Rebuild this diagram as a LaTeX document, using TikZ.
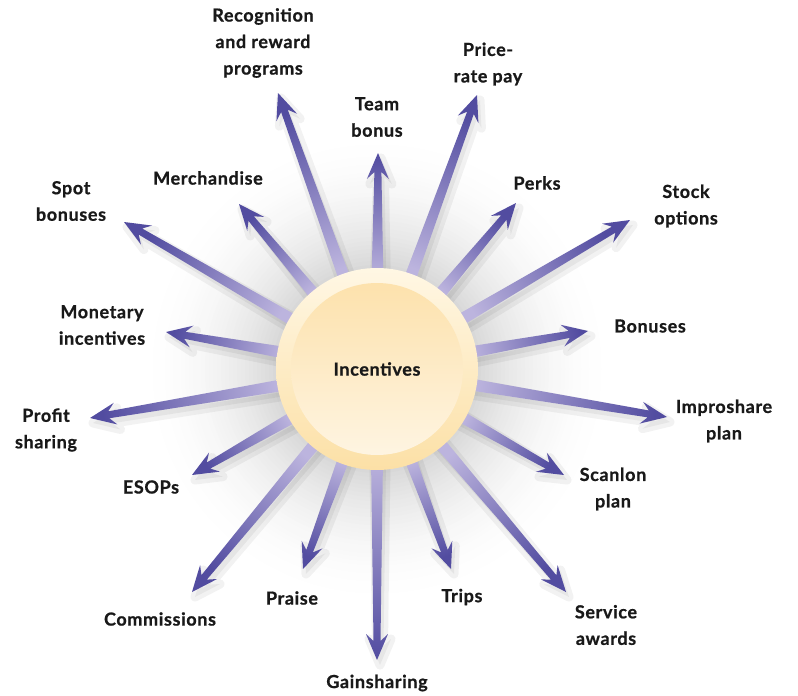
\documentclass[tikz,border=0pt]{standalone}
\usepackage{fontspec}
\setmainfont{Lato}[LetterSpace=3.5, BoldFeatures={FakeBold=0.8}]
\usetikzlibrary{calc,backgrounds}
\definecolor{spokedark}{RGB}{82,76,160}
\definecolor{spokelight}{RGB}{188,180,222}
\definecolor{ringtop}{RGB}{255,247,228}
\definecolor{ringbottom}{RGB}{252,224,166}
\definecolor{coretop}{RGB}{253,224,168}
\definecolor{corebottom}{RGB}{254,246,230}

\begin{document}
\begin{tikzpicture}[x=1pt, y=-1pt,
  lbl/.style={font=\fontsize{18}{26.5}\selectfont\bfseries, text=black!90, align=center, inner sep=0pt},
  hub/.style={circle, minimum size=202pt, inner sep=0pt, top color=ringtop, bottom color=ringbottom,
    path picture={\shade[top color=coretop, bottom color=corebottom] (path picture bounding box.center) circle (86pt);}},
  spoke/.style={top color=spokedark, bottom color=spokelight},
  spokeshadow/.style={fill=black, draw=black, line width=9pt, line join=round, opacity=0.05,
    transform canvas={shift={(3pt,-5pt)}}}]
  \useasboundingbox (0,0) rectangle (798,696);
  \def\spokes{rec/278/93/263/43/{Recognition\\and reward\\programs},
    team/378/153/377/117/{Team\\bonus},
    price/477/95/488/64/{Price-\\rate pay},
    perks/516/203/537/183/{Perks},
    stock/630/220/686/206/{Stock\\options},
    bon/588/331/650/326/{Bonuses},
    impro/667/417/724/421/{Improshare\\plan},
    scan/564/475/613/489/{Scanlon\\plan},
    serv/566/592/606/625/{Service\\awards},
    trips/451/569/462/597/{Trips},
    gain/377/660/377/683/{Gainsharing},
    praise/303/569/292/598/{Praise},
    comm/192/592/160/619/{Commissions},
    esop/192/475/151/487/{ESOPs},
    profit/90/418/46/430/{Profit\\sharing},
    mon/166/332/102/325/{Monetary\\incentives},
    spot/124/222/71/201/{Spot\\bonuses},
    merch/239/204/208/178/{Merchandise}}

  \node[hub, lbl] (inc) at (377,369) {Incentives};

  \foreach \n/\tx/\ty/\lx/\ly/\txt in \spokes {
    \coordinate (t-\n) at (\tx,\ty);
    \node[lbl] (l-\n) at (\lx,\ly) {\txt};
    \coordinate (s-\n) at ($(inc.center)!88pt!(t-\n)$);
    \coordinate (k-\n) at ($(t-\n)!19pt!(inc.center)$);
    \coordinate (w-\n) at ($(t-\n)!26pt!(inc.center)$);
    \coordinate (a-\n) at ($(s-\n)!6pt!90:(t-\n)$);
    \coordinate (b-\n) at ($(k-\n)!3.5pt!90:(t-\n)$);
    \coordinate (c-\n) at ($(w-\n)!11pt!90:(t-\n)$);
    \coordinate (d-\n) at ($(w-\n)!11pt!-90:(t-\n)$);
    \coordinate (e-\n) at ($(k-\n)!3.5pt!-90:(t-\n)$);
    \coordinate (f-\n) at ($(s-\n)!6pt!-90:(t-\n)$);
  }

  \begin{scope}[on background layer]
    \foreach \r in {240,236,...,100} {
      \pgfmathsetmacro\g{16*((240-\r)/140)^2}
      \fill[black!\g] (inc.center) circle (\r pt);
    }
    \foreach \n/\tx/\ty/\lx/\ly/\txt in \spokes
      \filldraw[spokeshadow] (a-\n) -- (b-\n) -- (c-\n) -- (t-\n) -- (d-\n) -- (e-\n) -- (f-\n) -- cycle;
    \foreach \n/\tx/\ty/\lx/\ly/\txt in \spokes {
      \pgfmathsetmacro\ang{atan2(369-\ty,\tx-377)-90}
      \shade[spoke, shading angle=\ang] (a-\n) -- (b-\n) -- (c-\n) -- (t-\n) -- (d-\n) -- (e-\n) -- (f-\n) -- cycle;
    }
  \end{scope}
\end{tikzpicture}
\end{document}
